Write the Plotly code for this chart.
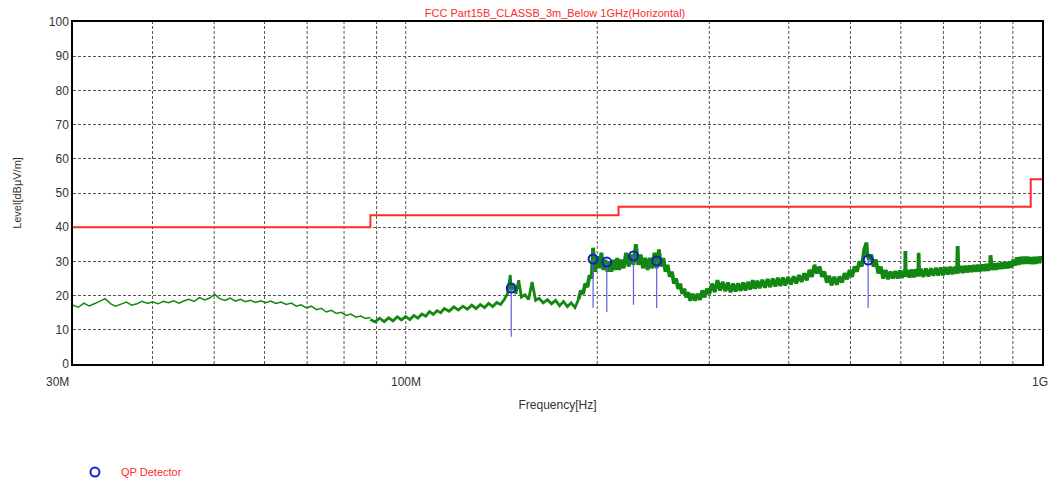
import math
import plotly.graph_objects as go

# ---- data (MHz, dBuV/m) ----
low_freq = [30, 30.6, 31.2, 31.8, 32.4, 33, 33.7, 34.4, 35, 35.7, 36.4, 37.1, 37.8, 38.5, 39.3,
            40, 40.8, 41.6, 42.4, 43.2, 44, 44.8, 45.6, 46.5, 47.4, 48.3, 49.2, 50.1, 51, 52,
            53, 54, 55, 56, 57, 58.1, 59.2, 60.3, 61.4, 62.5, 63.7, 64.9, 66.1, 67.3, 68.5,
            69.8, 71.1, 72.4, 73.7, 75, 76.4, 77.8, 79.2, 80.6, 82, 83.5, 85, 86.5, 88]
low_level = [17.2, 16.6, 17.8, 17.0, 17.6, 18.4, 19.1, 17.6, 16.9, 17.5, 18.1, 17.2, 17.6, 18.3, 17.7,
             18.2, 17.6, 18.3, 17.9, 18.5, 17.8, 18.4, 18.9, 18.3, 19.4, 18.7, 19.3, 20.4, 19.1, 18.6,
             19.3, 18.4, 18.9, 18.2, 18.6, 18.0, 18.5, 17.9, 18.4, 17.7, 18.1, 17.4, 17.8, 16.9, 17.3,
             16.4, 16.9, 15.9, 16.3, 15.2, 15.7, 14.8, 15.1, 14.2, 14.6, 13.7, 14.0, 13.3, 13.6]

mid_freq = [88, 89.5, 91, 92.5, 94, 95.5, 97, 98.5, 100, 101.5, 103, 104.5, 106, 107.5, 109,
            110.5, 112, 113.5, 115, 117, 119, 121, 123, 125, 127, 129, 131, 133, 135, 137,
            139, 141, 143, 144.5, 146, 146.5, 147.5, 149, 150.5, 152, 154, 156, 158, 160, 162,
            164.5, 167, 169.5, 172, 174.5, 177, 179.5, 182, 184.5, 187]
mid_level = [13.0, 12.3, 13.4, 12.4, 13.5, 12.6, 13.8, 12.9, 13.9, 13.0, 14.2, 13.4, 14.6, 14.0, 15.3,
             14.5, 15.6, 15.0, 16.2, 15.4, 16.7, 15.8, 16.9, 16.0, 17.2, 16.2, 17.4, 16.5, 17.7, 16.8,
             18.0, 17.4, 19.0, 20.5, 26.0, 21.5, 23.5, 20.5, 24.5, 19.6, 20.2, 18.9, 24.0, 18.6, 19.2,
             17.9, 18.8, 17.6, 18.6, 17.0, 18.3, 16.8, 17.9, 16.5, 19.0]

high_freq = [187, 188.5, 190, 191.5, 193, 194.5, 196, 197, 198.5, 200, 201.5, 203, 204.5, 206,
             207.5, 209, 210.5, 212, 213.5, 215, 216.5, 218, 220, 222, 224, 226, 228, 230, 232,
             234, 236, 238, 240, 242, 244, 246, 248, 250, 252, 254, 256, 258, 260, 262, 264,
             266, 268, 270, 272, 274, 276, 278, 280, 282.5, 285, 287.5, 290, 292.5, 295, 297.5,
             300, 303, 306, 309, 312, 315, 318, 321, 324, 327, 330, 333, 336, 339, 342, 345,
             348, 351, 354, 357, 360, 363.5, 367, 370.5, 374, 377.5, 381, 384.5, 388, 391.5, 395,
             399, 403, 407, 411, 415, 419, 423, 427, 431, 435, 439, 443, 447, 451, 455, 459,
             463, 467, 471.5, 476, 480.5, 485, 489.5, 494, 498.5, 503, 507.5, 512, 516.5, 521,
             525.5, 530, 531, 534.5, 539, 543.5, 548, 553, 558, 563, 568, 573, 578, 583, 588,
             593, 598, 603, 608, 609.5, 610, 610.5, 614, 619, 624, 629, 634, 639, 640, 641, 645,
             651, 657, 663, 669, 675, 681, 687, 693, 699, 705, 711, 717, 723, 729, 735, 737,
             739, 745, 751, 757, 763, 769, 775, 781, 787, 793, 799, 805, 811, 817, 823, 829,
             830, 835, 841, 847, 853, 859, 865, 871, 877, 883, 889, 895, 901, 907, 913, 919,
             925, 931, 937, 943, 949, 955, 961, 967, 973, 979, 985, 991, 997, 1000]
high_level = [19.0, 21.5, 20.5, 23.5, 22.5, 26.0, 25.0, 34.0, 27.0, 31.5, 28.0, 32.5, 27.5, 30.5,
              27.0, 30.0, 27.0, 30.5, 27.5, 31.0, 27.5, 30.5, 28.0, 32.5, 28.5, 32.0, 29.0, 35.0, 29.0,
              32.0, 28.0, 31.0, 27.5, 31.0, 28.0, 32.5, 28.0, 33.5, 28.5, 31.0, 27.0, 29.0, 25.5, 27.0,
              23.5, 25.0, 22.0, 23.5, 20.5, 22.0, 19.5, 21.0, 18.5, 20.5, 18.5, 20.5, 18.8, 21.5, 19.5,
              22.0, 20.5, 23.5, 21.0, 24.5, 21.5, 24.0, 21.3, 23.8, 21.0, 23.5, 21.2, 23.6, 21.4, 23.8,
              21.5, 24.0, 21.8, 24.5, 22.0, 24.3, 22.2, 24.6, 22.3, 24.8, 22.5, 25.0, 22.7, 25.2, 22.8,
              25.3, 23.0, 25.4, 23.3, 25.6, 23.6, 26.0, 24.0, 26.5, 24.5, 27.5, 25.5, 29.0, 26.5, 28.5,
              25.5, 27.0, 23.8, 25.8, 23.0, 25.5, 23.2, 25.6, 23.8, 26.5, 24.8, 27.5, 25.5, 28.5, 27.0,
              30.0, 28.5, 33.5, 35.5, 32.5, 30.5, 32.0, 28.5, 30.5, 26.5, 28.5, 25.0, 27.5, 24.8, 27.0,
              25.0, 27.2, 25.0, 27.3, 25.2, 27.4, 25.6, 33.0, 25.5, 27.5, 25.3, 27.6, 25.4, 27.7, 25.6,
              32.5, 25.7, 27.8, 25.5, 27.9, 25.6, 28.0, 25.8, 28.1, 25.9, 28.2, 26.0, 28.3, 26.2, 28.4,
              26.3, 28.4, 26.4, 34.5, 26.6, 28.6, 26.6, 28.7, 26.8, 28.8, 26.9, 28.9, 27.0, 29.0, 27.1,
              29.1, 27.2, 29.2, 27.3, 29.3, 31.8, 27.5, 29.4, 27.6, 29.5, 27.8, 29.7, 27.9, 29.8, 28.0,
              29.9, 28.2, 30.5, 28.8, 31.2, 29.0, 31.3, 29.2, 31.4, 29.3, 31.4, 29.3, 31.2, 29.2,
              31.3, 29.3, 31.4, 29.5, 31.5, 30.2]

limit_freq = [30, 88, 216, 960, 1000]
limit_level = [40, 43.5, 46, 54, 54]

qp_freq = [146.5, 197, 207, 228, 248, 533]
qp_level = [22.2, 30.7, 29.8, 31.6, 30.1, 30.4]
qp_stem_low = [8.0, 16.4, 15.2, 17.3, 16.4, 16.4]

x_tick_freqs = [30, 100, 1000]
x_tick_text = ["30M", "100M", "1G"]
x_gridvals = [40, 50, 60, 70, 80, 90, 100, 200, 300, 400, 500, 600, 700, 800, 900]

GREEN = "#128812"
RED = "#ff2a2a"
BLUE = "#1a1ad0"
STEM = "#6060d8"
TXT = "#333333"
FONT = "Liberation Sans, Arial, sans-serif"

fig = go.Figure()

fig.add_trace(go.Scatter(x=limit_freq, y=limit_level, mode="lines",
                         line=dict(color=RED, width=2, shape="hv"), showlegend=False,
                         hoverinfo="skip"))

fig.add_trace(go.Scatter(x=low_freq, y=low_level, mode="lines",
                         line=dict(color=GREEN, width=1.5), showlegend=False))
fig.add_trace(go.Scatter(x=mid_freq, y=mid_level, mode="lines",
                         line=dict(color=GREEN, width=2.8), showlegend=False))
fig.add_trace(go.Scatter(x=high_freq, y=high_level, mode="lines",
                         line=dict(color=GREEN, width=3.8), showlegend=False))

# stems
stem_x, stem_y = [], []
for f, lo, hi in zip(qp_freq, qp_stem_low, qp_level):
    stem_x += [f, f, None]
    stem_y += [lo, hi, None]
fig.add_trace(go.Scatter(x=stem_x, y=stem_y, mode="lines",
                         line=dict(color=STEM, width=1.2), showlegend=False, hoverinfo="skip"))

fig.add_trace(go.Scatter(x=qp_freq, y=qp_level, mode="markers",
                         name="\u00a0\u00a0QP Detector",
                         marker=dict(symbol="circle-open", size=9, color=BLUE,
                                     line=dict(width=2, color=BLUE))))

# page body has an 8px margin, so the figure is sized to fit the window
fig.update_layout(
    width=1048, height=479,
    margin=dict(l=65, r=14, t=14, b=123, autoexpand=False),
    paper_bgcolor="white", plot_bgcolor="white",
    font=dict(family=FONT, size=12, color=TXT),
    title=dict(text="FCC Part15B_CLASSB_3m_Below 1GHz(Horizontal)", x=0.522, xanchor="center",
               y=0.998, yanchor="top", pad=dict(t=0, b=0),
               font=dict(color=RED, size=11, family=FONT)),
    legend=dict(x=0.002, xanchor="left", y=-0.316, yanchor="middle",
                font=dict(color=RED, size=11, family=FONT), bgcolor="rgba(0,0,0,0)",
                itemwidth=30),
    showlegend=True,
)

fig.update_xaxes(
    type="log", range=[math.log10(30), 3.0], tickvals=[100], ticktext=[""],
    showgrid=False, showline=True, linecolor="black", linewidth=1.5, mirror=True,
    ticks="", automargin=False,
    title=dict(text="Frequency[Hz]", font=dict(size=12, color=TXT), standoff=33),
    zeroline=False,
)
fig.update_yaxes(
    range=[0, 100], tickvals=list(range(0, 101, 10)),
    showgrid=True, gridcolor="#555555", gridwidth=1, griddash="3px,2px",
    showline=True, linecolor="black", linewidth=1.5, mirror=True,
    ticks="", tickfont=dict(size=12, color=TXT), automargin=False,
    title=dict(text="Level[dBμV/m]", font=dict(size=11, color=TXT), standoff=25),
    zeroline=False,
)

# vertical grid lines
for g in x_gridvals:
    fig.add_shape(type="line", xref="x", yref="paper", x0=g, x1=g, y0=0, y1=1,
                  line=dict(color="#555555", width=1, dash="3px,2px"), layer="below")

shifts = [-16, 0, -2]
for fv, lab, sh in zip(x_tick_freqs, x_tick_text, shifts):
    fig.add_annotation(x=math.log10(fv), xref="x", y=0, yref="paper", text=lab,
                       showarrow=False, xanchor="center", yanchor="top",
                       xshift=sh, yshift=-9,
                       font=dict(size=12, color=TXT, family=FONT))

fig.write_html("out.html")
